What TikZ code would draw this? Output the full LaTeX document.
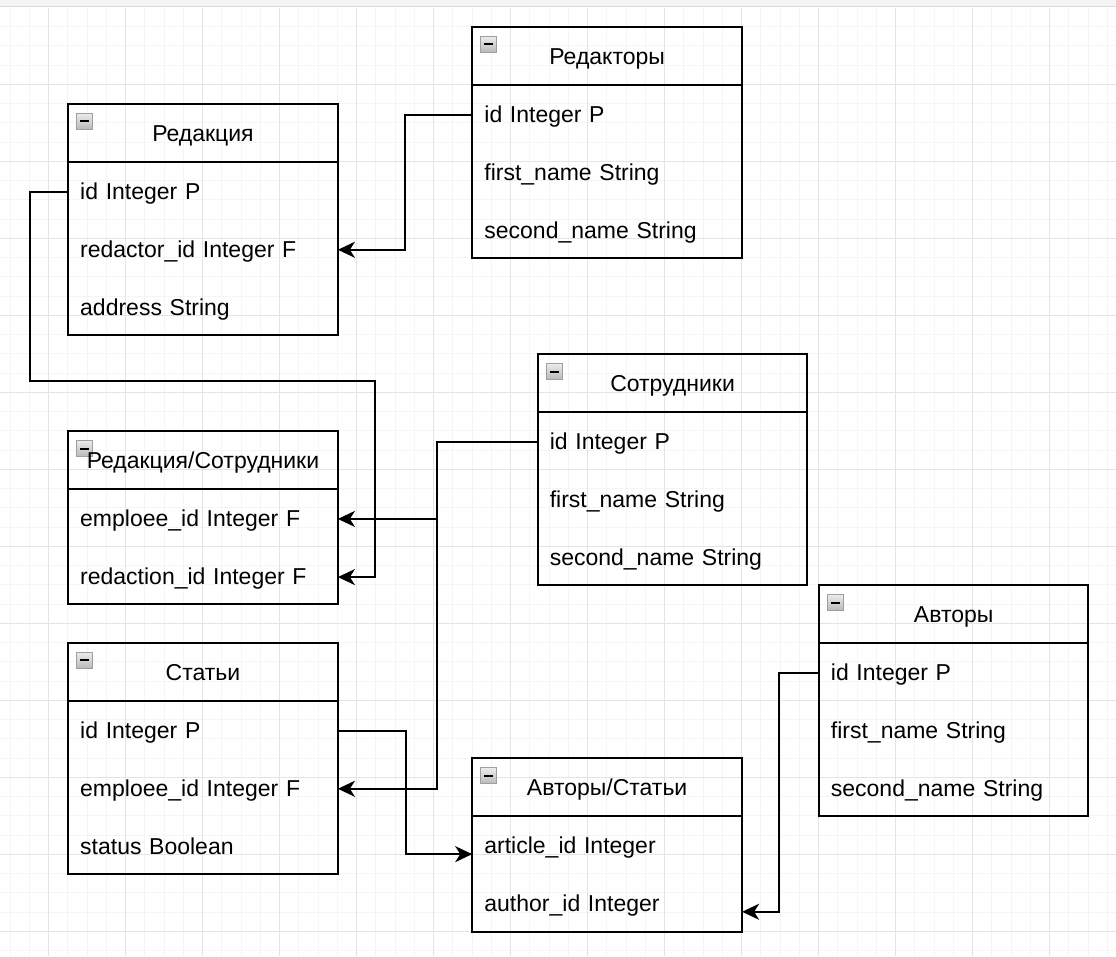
\documentclass[tikz,border=0pt]{standalone}
\usepackage{fontspec}
\setmainfont{Liberation Sans}
\usepackage{tikz}
\usetikzlibrary{arrows.meta,positioning}

\definecolor{minorgrid}{HTML}{F5F5F5}
\definecolor{majorgrid}{HTML}{E4E4E4}
\definecolor{topbar}{HTML}{F3F4F6}
\definecolor{topline}{HTML}{DADBDD}

\begin{document}
\begin{tikzpicture}[x=1pt, y=-1pt]
			\tikzstyle{Frame}	= [rectangle, draw, line width=2pt, minimum width=269.5pt, anchor=north west, inner sep=0pt]
			\tikzstyle{Head}	= [rectangle, draw, line width=2pt, minimum width=269.5pt, minimum height=57.75pt, inner sep=0pt, text height=17pt, text depth=0pt, font=\fontsize{23}{27}\selectfont]
			\tikzstyle{Row}		= [rectangle, minimum width=269.5pt, minimum height=57.75pt, inner sep=0pt, text width=245.5pt, text height=16pt, text depth=1pt, align=left, font=\fontsize{23}{27}\selectfont]
			\tikzstyle{Icon}	= [rectangle, draw=gray!75, line width=1pt, top color=gray!15, bottom color=gray!55, minimum size=16pt, inner sep=0pt, anchor=north west]
			\tikzstyle{MinorGrid}	= [minorgrid, line width=1pt]
			\tikzstyle{MajorGrid}	= [majorgrid, line width=1pt]
			\tikzstyle{Link}	= [line width=2pt, -{Stealth[length=17pt, width=16pt, inset=5pt]}]

			\useasboundingbox (0, 0) rectangle (1116, 956);
			\fill[white] (0, 0) rectangle (1116, 956);
			\foreach \i in {0,...,57} \draw[MinorGrid] ({10.1+19.25*\i}, 7.5) -- ({10.1+19.25*\i}, 956);
			\foreach \i in {0,...,48} \draw[MinorGrid] (0, {26.55+19.25*\i}) -- (1116, {26.55+19.25*\i});
			\foreach \i in {0,...,13} \draw[MajorGrid] ({48.6+77*\i}, 7.5) -- ({48.6+77*\i}, 956);
			\foreach \i in {0,...,11} \draw[MajorGrid] (0, {84.3+77*\i}) -- (1116, {84.3+77*\i});
			\fill[topbar] (0, 0) rectangle (1116, 6);
			\draw[topline, line width=1.2pt] (0, 6.6) -- (1116, 6.6);

			\node (red) at (67.2, 102.8) [Frame, minimum height=231pt] {};
			\node (redHead) [Head, below=0pt of red.north] {Редакция};
			\node (redId) [Row, below=0pt of redHead] {id Integer P};
			\node (redRedactor) [Row, below=0pt of redId] {redactor\_id Integer F};
			\node (redAddress) [Row, below=0pt of redRedactor] {address String};
			\node (redIcon) at ([xshift=9pt, yshift=-10pt]red.north west) [Icon] {\rule{9pt}{2pt}};

			\node (rdr) at (471.4, 25.8) [Frame, minimum height=231pt] {};
			\node (rdrHead) [Head, below=0pt of rdr.north] {Редакторы};
			\node (rdrId) [Row, below=0pt of rdrHead] {id Integer P};
			\node (rdrFirst) [Row, below=0pt of rdrId] {first\_name String};
			\node (rdrSecond) [Row, below=0pt of rdrFirst] {second\_name String};
			\node (rdrIcon) at ([xshift=9pt, yshift=-10pt]rdr.north west) [Icon] {\rule{9pt}{2pt}};

			\node (emp) at (536.8, 353) [Frame, minimum height=231pt] {};
			\node (empHead) [Head, below=0pt of emp.north] {Сотрудники};
			\node (empId) [Row, below=0pt of empHead] {id Integer P};
			\node (empFirst) [Row, below=0pt of empId] {first\_name String};
			\node (empSecond) [Row, below=0pt of empFirst] {second\_name String};
			\node (empIcon) at ([xshift=9pt, yshift=-10pt]emp.north west) [Icon] {\rule{9pt}{2pt}};

			\node (rs) at (67.2, 430.1) [Frame, minimum height=173.25pt] {};
			\node (rsIcon) at ([xshift=9pt, yshift=-10pt]rs.north west) [Icon] {\rule{9pt}{2pt}};
			\node (rsHead) [Head, below=0pt of rs.north] {Редакция/Сотрудники};
			\node (rsEmp) [Row, below=0pt of rsHead] {emploee\_id Integer F};
			\node (rsRedaction) [Row, below=0pt of rsEmp] {redaction\_id Integer F};

			\node (art) at (67.2, 641.8) [Frame, minimum height=231pt] {};
			\node (artHead) [Head, below=0pt of art.north] {Статьи};
			\node (artId) [Row, below=0pt of artHead] {id Integer P};
			\node (artEmp) [Row, below=0pt of artId] {emploee\_id Integer F};
			\node (artStatus) [Row, below=0pt of artEmp] {status Boolean};
			\node (artIcon) at ([xshift=9pt, yshift=-10pt]art.north west) [Icon] {\rule{9pt}{2pt}};

			\node (aut) at (817.9, 584.1) [Frame, minimum height=231pt] {};
			\node (autHead) [Head, below=0pt of aut.north] {Авторы};
			\node (autId) [Row, below=0pt of autHead] {id Integer P};
			\node (autFirst) [Row, below=0pt of autId] {first\_name String};
			\node (autSecond) [Row, below=0pt of autFirst] {second\_name String};
			\node (autIcon) at ([xshift=9pt, yshift=-10pt]aut.north west) [Icon] {\rule{9pt}{2pt}};

			\node (as) at (471.4, 757.3) [Frame, minimum height=173.25pt] {};
			\node (asHead) [Head, below=0pt of as.north] {Авторы/Статьи};
			\node (asArticle) [Row, below=0pt of asHead] {article\_id Integer};
			\node (asAuthor) [Row, below=0pt of asArticle] {author\_id Integer};
			\node (asIcon) at ([xshift=9pt, yshift=-10pt]as.north west) [Icon] {\rule{9pt}{2pt}};

			\coordinate (loopTop) at (375, 381);

			\draw [Link] (rdrId.west) -- ++(-67, 0) |- (redRedactor.east);
			\draw [Link] (redId.west) -- ++(-38, 0) |- (loopTop) |- (rsRedaction.east);
			\draw [Link] (empId.west) -- ++(-100.5, 0) |- (rsEmp.east);
			\draw [Link] (empId.west) -- ++(-100.5, 0) |- (artEmp.east);
			\draw [Link] (artId.east) -- ++(67.65, 0) |- ([yshift=-8pt]asArticle.west);
			\draw [Link] (autId.west) -- ++(-39.6, 0) |- ([yshift=-7.5pt]asAuthor.east);
		\end{tikzpicture}
\end{document}
